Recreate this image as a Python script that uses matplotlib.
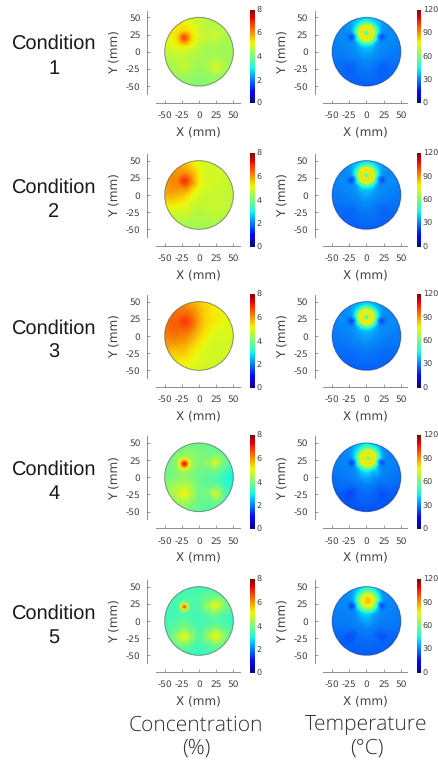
import numpy as np
import matplotlib
matplotlib.use("Agg")
import matplotlib.pyplot as plt
from matplotlib.cm import ScalarMappable
from matplotlib.colors import ListedColormap, Normalize
from matplotlib.patches import Circle
from matplotlib.tri import Triangulation, LinearTriInterpolator

plt.rcParams["axes.unicode_minus"] = False
plt.rcParams["text.hinting"] = "no_hinting"
plt.rcParams["text.hinting_factor"] = 1

W, H = 439, 763

conditions = ["Condition\n1", "Condition\n2", "Condition\n3", "Condition\n4", "Condition\n5"]
ticks_mm = [-50, -25, 0, 25, 50]
conc_ticks = [0, 2, 4, 6, 8]
temp_ticks = [0, 30, 60, 90, 120]

# Sample positions (mm) of the value tables below
node_x = [-50, -37, -22, -11, 0, 11, 22, 37, 50]
node_y = [50, 37, 21, 10, 0, -11, -22, -37, -50]

conc_1 = [[5.0, 5.1, 5.0, 4.8, 4.7, 4.6, 4.5, 4.5, 4.5],
          [5.1, 5.3, 5.3, 5.1, 4.8, 4.6, 4.6, 4.5, 4.4],
          [5.0, 5.3, 5.6, 5.4, 4.9, 4.7, 4.9, 4.5, 4.4],
          [4.9, 5.1, 5.3, 5.1, 4.7, 4.5, 4.5, 4.4, 4.4],
          [4.7, 4.8, 4.8, 4.7, 4.5, 4.4, 4.4, 4.4, 4.4],
          [4.6, 4.6, 4.7, 4.5, 4.4, 4.4, 4.5, 4.4, 4.3],
          [4.4, 4.5, 4.8, 4.5, 4.3, 4.5, 5.0, 4.5, 4.3],
          [4.3, 4.3, 4.3, 4.2, 4.2, 4.2, 4.3, 4.2, 4.2],
          [4.2, 4.2, 4.2, 4.1, 4.1, 4.1, 4.2, 4.2, 4.2]]
conc_2 = [[5.6, 5.7, 5.6, 5.2, 5.0, 4.9, 4.8, 4.8, 4.8],
          [5.9, 6.0, 5.9, 5.5, 5.1, 4.9, 4.8, 4.8, 4.8],
          [6.0, 6.2, 6.3, 5.8, 5.2, 4.9, 5.0, 4.8, 4.7],
          [5.9, 6.1, 6.1, 5.5, 5.1, 4.9, 4.8, 4.8, 4.7],
          [5.8, 5.8, 5.6, 5.2, 4.9, 4.8, 4.8, 4.7, 4.7],
          [5.4, 5.4, 5.2, 4.9, 4.8, 4.7, 4.8, 4.7, 4.7],
          [5.0, 5.0, 5.0, 4.8, 4.6, 4.7, 4.8, 4.7, 4.6],
          [4.7, 4.6, 4.6, 4.5, 4.5, 4.5, 4.6, 4.5, 4.5],
          [4.5, 4.5, 4.4, 4.4, 4.4, 4.4, 4.4, 4.4, 4.4]]
conc_3 = [[6.0, 6.0, 5.9, 5.7, 5.5, 5.3, 5.2, 5.1, 5.1],
          [6.2, 6.3, 6.3, 6.1, 5.7, 5.4, 5.2, 5.1, 5.1],
          [6.3, 6.5, 6.6, 6.2, 5.8, 5.4, 5.3, 5.1, 5.0],
          [6.3, 6.5, 6.5, 6.2, 5.7, 5.3, 5.1, 5.0, 5.0],
          [6.2, 6.3, 6.2, 5.9, 5.5, 5.2, 5.0, 5.0, 4.9],
          [6.0, 6.0, 5.9, 5.6, 5.3, 5.0, 4.9, 4.9, 4.9],
          [5.7, 5.6, 5.6, 5.3, 5.1, 4.9, 4.9, 4.9, 4.9],
          [5.4, 5.3, 5.2, 5.1, 5.0, 4.9, 4.9, 4.8, 4.8],
          [5.2, 5.2, 5.1, 5.0, 4.9, 4.8, 4.8, 4.8, 4.8]]
conc_4 = [[3.7, 3.8, 3.9, 3.9, 3.8, 3.8, 3.7, 3.6, 3.5],
          [3.8, 3.9, 4.1, 4.1, 4.0, 3.9, 3.9, 3.6, 3.4],
          [3.9, 4.0, 4.4, 4.2, 4.0, 4.2, 5.0, 3.9, 3.3],
          [3.9, 4.0, 4.2, 4.1, 3.9, 3.8, 4.0, 3.5, 3.0],
          [3.9, 4.0, 4.2, 4.0, 3.8, 3.7, 3.6, 3.2, 2.9],
          [4.1, 4.4, 4.6, 4.3, 3.8, 3.7, 3.8, 3.3, 3.0],
          [4.1, 4.6, 5.3, 4.6, 3.9, 4.0, 5.0, 3.6, 3.1],
          [3.9, 4.1, 4.4, 4.1, 3.8, 3.7, 3.9, 3.5, 3.2],
          [3.7, 3.8, 3.9, 3.8, 3.7, 3.6, 3.5, 3.4, 3.3]]
conc_5 = [[3.3, 3.3, 3.4, 3.4, 3.4, 3.4, 3.4, 3.3, 3.3],
          [3.3, 3.4, 3.5, 3.5, 3.5, 3.7, 3.8, 3.5, 3.3],
          [3.4, 3.5, 3.6, 3.5, 3.6, 4.3, 5.3, 4.1, 3.3],
          [3.4, 3.4, 3.6, 3.5, 3.4, 3.7, 4.1, 3.6, 3.3],
          [3.4, 3.5, 3.7, 3.5, 3.4, 3.5, 3.6, 3.4, 3.3],
          [3.4, 3.7, 4.1, 3.7, 3.4, 3.7, 4.1, 3.7, 3.4],
          [3.4, 4.1, 5.3, 4.3, 3.5, 4.3, 5.3, 4.2, 3.4],
          [3.4, 3.6, 3.9, 3.6, 3.4, 3.6, 3.9, 3.6, 3.4],
          [3.3, 3.3, 3.4, 3.3, 3.3, 3.3, 3.4, 3.3, 3.3]]

# Concentration around the injection point, centre outwards
conc_spot_centre = (-22, 20)
conc_spot_radii = [0, 2, 4, 8, 12]
conc_spot_1 = [7.0, 6.8, 6.4, 5.8, 5.3]
conc_spot_2 = [7.1, 6.95, 6.7, 6.4, 6.0]
conc_spot_3 = [6.9, 6.8, 6.7, 6.6, 6.4]
conc_spot_4 = [8.0, 7.7, 6.5, 4.8, 4.3]
conc_spot_5 = [8.0, 7.6, 5.0, 3.7, 3.5]

temp_1 = [[29, 30, 33, 38, 43, 38, 33, 30, 29],
          [30, 31, 34, 40, 46, 40, 34, 31, 30],
          [30, 32, 18, 38, 46, 38, 18, 32, 30],
          [30, 31, 32, 35, 42, 35, 32, 31, 30],
          [29, 30, 31, 33, 36, 33, 31, 30, 29],
          [29, 29, 30, 31, 32, 31, 30, 29, 29],
          [28, 28, 26, 29, 30, 29, 26, 28, 28],
          [26, 27, 27, 28, 28, 28, 27, 27, 26],
          [24, 25, 26, 26, 26, 26, 26, 25, 24]]
temp_2 = [[29, 30, 33, 38, 43, 38, 33, 30, 29],
          [30, 31, 34, 40, 46, 40, 34, 31, 30],
          [30, 32, 17, 38, 46, 38, 17, 32, 30],
          [30, 31, 32, 35, 43, 35, 32, 31, 30],
          [29, 30, 31, 33, 36, 33, 31, 30, 29],
          [29, 29, 30, 31, 32, 31, 30, 29, 29],
          [28, 28, 27, 29, 30, 29, 27, 28, 28],
          [26, 27, 27, 28, 28, 28, 27, 27, 26],
          [24, 25, 26, 26, 26, 26, 26, 25, 24]]
temp_3 = [[29, 30, 32, 37, 42, 37, 32, 30, 29],
          [30, 31, 33, 39, 45, 39, 33, 31, 30],
          [30, 32, 17, 37, 45, 37, 17, 32, 30],
          [30, 31, 32, 35, 42, 35, 32, 31, 30],
          [29, 30, 31, 33, 36, 33, 31, 30, 29],
          [29, 29, 30, 31, 32, 31, 30, 29, 29],
          [28, 28, 28, 29, 30, 29, 28, 28, 28],
          [26, 27, 27, 28, 28, 28, 27, 27, 26],
          [24, 25, 26, 26, 26, 26, 26, 25, 24]]
temp_4 = [[28, 29, 32, 38, 43, 38, 32, 29, 28],
          [29, 30, 33, 40, 47, 40, 33, 30, 29],
          [29, 31, 17, 38, 48, 38, 17, 31, 29],
          [29, 30, 31, 34, 44, 34, 31, 30, 29],
          [28, 29, 30, 32, 36, 32, 30, 29, 28],
          [27, 28, 28, 29, 31, 29, 28, 28, 27],
          [26, 26, 23, 27, 28, 27, 24, 26, 26],
          [24, 25, 25, 26, 26, 26, 25, 25, 24],
          [23, 23, 24, 24, 24, 24, 24, 23, 23]]
temp_5 = [[29, 30, 32, 38, 45, 38, 32, 30, 29],
          [30, 31, 33, 40, 48, 40, 33, 31, 30],
          [30, 31, 17, 38, 48, 38, 17, 31, 30],
          [30, 30, 31, 34, 44, 34, 31, 30, 30],
          [29, 30, 30, 32, 36, 32, 30, 30, 29],
          [28, 29, 29, 30, 31, 30, 29, 29, 28],
          [27, 27, 24, 28, 29, 28, 24, 27, 27],
          [25, 26, 27, 27, 27, 27, 27, 26, 25],
          [24, 25, 25, 26, 26, 26, 25, 25, 24]]

# Temperature around the heater, centre outwards
temp_spot_radii = [0, 3, 6, 9, 12, 16, 20]
temp_spot_centre_1 = (0, 27)
temp_spot_centre_2 = (0, 28)
temp_spot_centre_3 = (0, 27)
temp_spot_centre_4 = (2, 28)
temp_spot_centre_5 = (2, 29)
temp_spot_1 = [42, 56, 78, 88, 70, 52, 40]
temp_spot_2 = [42, 56, 78, 90, 70, 52, 40]
temp_spot_3 = [42, 56, 78, 88, 68, 50, 38]
temp_spot_4 = [46, 60, 80, 86, 72, 55, 42]
temp_spot_5 = [90, 84, 80, 76, 66, 52, 40]

# Temperature a little way off the two dark cooling dots
cold_dot_radius = 6
cold_dot_centres = [(-22, 21), (22, 21)]
cold_dot_ring = [31, 31, 31, 31, 31]

conc_tables = [conc_1, conc_2, conc_3, conc_4, conc_5]
conc_spots = [conc_spot_1, conc_spot_2, conc_spot_3, conc_spot_4, conc_spot_5]
temp_tables = [temp_1, temp_2, temp_3, temp_4, temp_5]
temp_spots = [temp_spot_1, temp_spot_2, temp_spot_3, temp_spot_4, temp_spot_5]
temp_centres = [temp_spot_centre_1, temp_spot_centre_2, temp_spot_centre_3,
                temp_spot_centre_4, temp_spot_centre_5]

row_centres = [51.7, 195.0, 336.0, 477.3, 621.0]
PX_PER_MM = 0.687
PT = 0.72
GREY = "#8c8c8c"
TEXT = "#404040"
BLUR_MM = 2.0

# jet, slightly muted as in the reference picture
muted_jet = ListedColormap(plt.get_cmap("jet")(np.linspace(0, 1, 256))[:, :3] * 0.95 + 0.025)

fig = plt.figure(figsize=(W / 100, H / 100), dpi=100)


def field_image(table, centre, radii, profile, cold_value=None):
    gx, gy = np.meshgrid(node_x, node_y)
    gv = np.asarray(table, float)
    keep = np.hypot(gx - centre[0], gy - centre[1]) > radii[-1]
    xs, ys, vs = list(gx[keep]), list(gy[keep]), list(gv[keep])
    xs.append(centre[0]); ys.append(centre[1]); vs.append(profile[0])
    for r, v in zip(radii[1:], profile[1:]):
        for a in np.linspace(0, 2 * np.pi, 12, endpoint=False):
            xs.append(centre[0] + r * np.cos(a))
            ys.append(centre[1] + r * np.sin(a))
            vs.append(v)
    if cold_value is not None:
        for c in cold_dot_centres:
            for a in np.linspace(0, 2 * np.pi, 8, endpoint=False):
                xs.append(c[0] + cold_dot_radius * np.cos(a))
                ys.append(c[1] + cold_dot_radius * np.sin(a))
                vs.append(cold_value)
    tri = Triangulation(np.array(xs), np.array(ys))
    interp = LinearTriInterpolator(tri, np.array(vs))
    axis = np.arange(-50, 50.01, 0.5)
    fx, fy = np.meshgrid(axis, axis)
    img = np.ma.filled(interp(fx, fy), np.nan)
    img = np.where(np.isnan(img), np.nanmean(img), img)
    # soften like the reference picture
    kx = np.arange(-12, 12.01, 0.5)
    kern = np.exp(-0.5 * (kx / BLUR_MM) ** 2)
    kern /= kern.sum()
    pad = len(kern) // 2
    padded = np.pad(img, pad, mode="edge")
    padded = np.apply_along_axis(lambda m: np.convolve(m, kern, "same"), 0, padded)
    padded = np.apply_along_axis(lambda m: np.convolve(m, kern, "same"), 1, padded)
    return padded[pad:-pad, pad:-pad]


def panel(cx, cy, img, vmax, cticks, cbar_x, edge):
    x0, x1 = cx - 43, cx + 41
    y0, y1 = cy - 41, cy + 42
    ax = fig.add_axes([x0 / W, 1 - y1 / H, (x1 - x0) / W, (y1 - y0) / H])
    ax.patch.set_alpha(0)
    im = ax.imshow(img, origin="lower", extent=(-50, 50, -50, 50), cmap=muted_jet,
                   vmin=0, vmax=vmax, interpolation="bilinear", aspect="auto")
    ax.set_xlim(-43 / PX_PER_MM, 41 / PX_PER_MM)
    ax.set_ylim(-42 / PX_PER_MM, 41 / PX_PER_MM)
    im.set_clip_path(Circle((0, 0), 50, transform=ax.transData))
    ax.add_patch(Circle((0, 0), 50, fill=False, ec=edge, lw=0.7, alpha=0.6))
    for side in ("top", "right"):
        ax.spines[side].set_visible(False)
    ax.spines["left"].set_position(("outward", 8.7 * PT))
    ax.spines["bottom"].set_position(("outward", 9 * PT))
    for side in ("left", "bottom"):
        ax.spines[side].set_color(GREY)
        ax.spines[side].set_linewidth(0.7)
    ax.set_xticks(ticks_mm)
    ax.set_yticks(ticks_mm)
    ax.tick_params(direction="in", length=2.2, width=0.6, color=GREY,
                   labelsize=6.3, labelcolor=TEXT, pad=6.0)
    ax.tick_params(axis="y", pad=5.0)
    ax.set_xlabel("X (mm)", fontsize=8.6, color=TEXT, labelpad=4.5)
    ax.set_ylabel("Y (mm)", fontsize=8.6, color=TEXT)
    ax.yaxis.set_label_coords((cx - 79 - x0) / (x1 - x0), 0.5)

    cax = fig.add_axes([cbar_x / W, 1 - (cy + 51.5) / H, 4.8 / W, 93.5 / H])
    cb = fig.colorbar(ScalarMappable(Normalize(0, vmax), muted_jet), cax=cax, ticks=cticks)
    cb.outline.set_visible(False)
    cax.tick_params(length=0, labelsize=6.0, labelcolor=TEXT, pad=1.0)


for i, cy in enumerate(row_centres):
    fig.text(54 / W, 1 - (cy + 4.6) / H, conditions[i], ha="center", va="center",
             fontsize=14.2, family="Liberation Sans", color="#1a1a1a", linespacing=1.4)
    panel(199, cy, field_image(conc_tables[i], conc_spot_centre, conc_spot_radii, conc_spots[i]),
          8, conc_ticks, 250.2, "#3c4a3c")
    panel(366.5, cy, field_image(temp_tables[i], temp_centres[i], temp_spot_radii, temp_spots[i],
                                 cold_dot_ring[i]),
          120, temp_ticks, 416.7, "#10308a")

for x, line1, line2 in [(196, "Concentration", "(%)"), (366.5, "Temperature", "(°C)")]:
    fig.text(x / W, 1 - 725 / H, line1, ha="center", va="center", fontsize=15,
             family="Open Sans", fontweight="light", color="#303030")
    fig.text(x / W, 1 - 748 / H, line2, ha="center", va="center", fontsize=15,
             family="Open Sans", fontweight="light", color="#303030")

fig.savefig("out.png", dpi=100)
